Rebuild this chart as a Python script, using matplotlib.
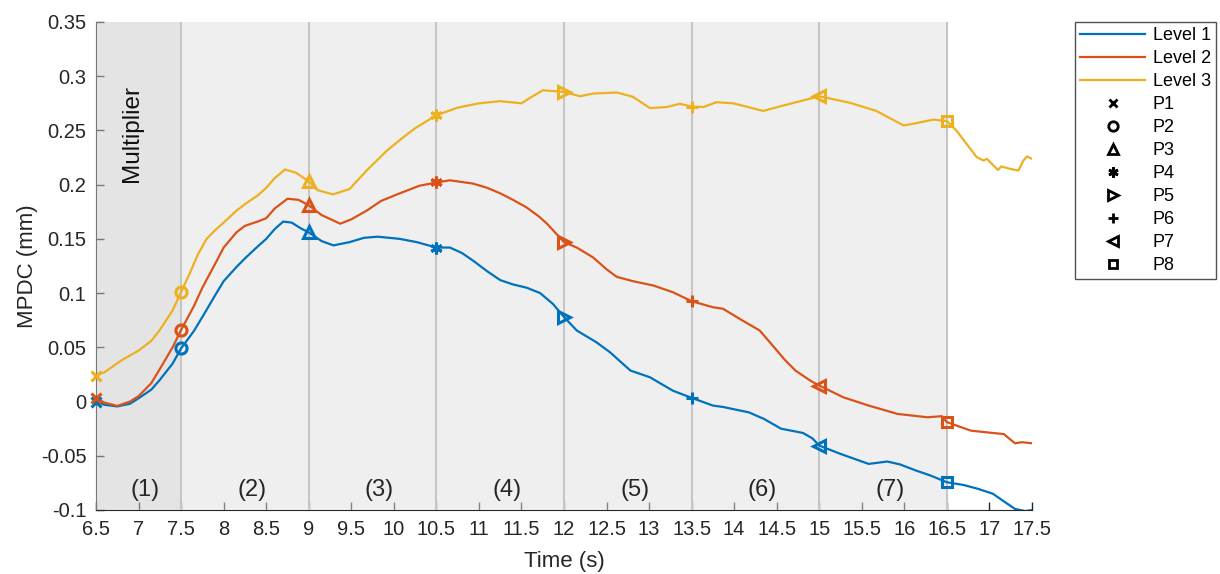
import numpy as np
import matplotlib
matplotlib.use('Agg')
import matplotlib.pyplot as plt
from matplotlib.lines import Line2D

plt.rcParams['font.family'] = ['Liberation Sans', 'DejaVu Sans']

# time (s) / MPDC (mm), one pair of lists per level
t1 = [6.5, 6.6, 6.75, 6.9, 7.0, 7.15, 7.25, 7.4, 7.5, 7.65, 7.75, 7.9, 8.0, 8.15, 8.25, 8.4,
      8.5, 8.6, 8.7, 8.8, 8.9, 9.0, 9.15, 9.29, 9.48, 9.65, 9.81, 10.07, 10.27, 10.5, 10.66,
      10.8, 10.93, 11.1, 11.25, 11.4, 11.56, 11.72, 11.87, 12.0, 12.15, 12.38, 12.54, 12.78,
      13.01, 13.28, 13.5, 13.75, 13.87, 14.07, 14.17, 14.35, 14.55, 14.81, 14.92, 15.0, 15.24,
      15.58, 15.8, 15.95, 16.14, 16.3, 16.5, 16.7, 16.87, 17.04, 17.15, 17.3, 17.42, 17.5]
y1 = [0.000, -0.003, -0.0045, -0.002, 0.003, 0.011, 0.020, 0.035, 0.049, 0.065, 0.078, 0.098,
      0.111, 0.124, 0.132, 0.143, 0.150, 0.159, 0.166, 0.165, 0.160, 0.156, 0.148, 0.144,
      0.147, 0.151, 0.152, 0.150, 0.147, 0.142, 0.142, 0.137, 0.130, 0.120, 0.112, 0.108,
      0.105, 0.100, 0.090, 0.078, 0.0655, 0.0547, 0.0455, 0.0286, 0.0224, 0.010, 0.0034,
      -0.0037, -0.005, -0.0083, -0.0099, -0.016, -0.025, -0.029, -0.034, -0.0406, -0.048,
      -0.0575, -0.0553, -0.058, -0.0637, -0.068, -0.0744, -0.077, -0.0806, -0.085, -0.091,
      -0.099, -0.101, -0.100]

t2 = [6.5, 6.6, 6.75, 6.9, 7.0, 7.15, 7.25, 7.4, 7.5, 7.65, 7.75, 7.9, 8.0, 8.15, 8.25, 8.4,
      8.5, 8.6, 8.75, 8.88, 9.0, 9.15, 9.37, 9.5, 9.68, 9.85, 10.07, 10.3, 10.5, 10.66, 10.93,
      11.1, 11.25, 11.4, 11.56, 11.7, 11.8, 12.0, 12.15, 12.34, 12.5, 12.62, 12.81, 13.05,
      13.28, 13.5, 13.75, 13.87, 14.07, 14.3, 14.47, 14.6, 14.72, 14.9, 15.0, 15.28, 15.58,
      15.92, 16.27, 16.44, 16.5, 16.78, 17.04, 17.17, 17.23, 17.3, 17.38, 17.5]
y2 = [0.003, -0.001, -0.004, 0.000, 0.005, 0.017, 0.030, 0.050, 0.066, 0.088, 0.105, 0.127,
      0.142, 0.156, 0.162, 0.166, 0.169, 0.178, 0.187, 0.186, 0.181, 0.172, 0.164, 0.168,
      0.176, 0.185, 0.192, 0.199, 0.202, 0.204, 0.201, 0.197, 0.192, 0.186, 0.179, 0.171,
      0.164, 0.147, 0.142, 0.133, 0.122, 0.115, 0.111, 0.107, 0.1008, 0.0925, 0.087, 0.0855,
      0.076, 0.0655, 0.050, 0.038, 0.0286, 0.019, 0.0148, 0.004, -0.0037, -0.0114, -0.0145,
      -0.0135, -0.019, -0.0268, -0.029, -0.030, -0.034, -0.0385, -0.0375, -0.0385]

t3 = [6.5, 6.6, 6.8, 7.0, 7.15, 7.25, 7.4, 7.5, 7.6, 7.7, 7.8, 7.9, 8.0, 8.15, 8.25, 8.4,
      8.5, 8.6, 8.72, 8.85, 9.0, 9.1, 9.285, 9.48, 9.68, 9.92, 10.1, 10.25, 10.5, 10.75, 11.0,
      11.25, 11.5, 11.6, 11.75, 12.0, 12.19, 12.34, 12.62, 12.81, 13.01, 13.21, 13.36, 13.5,
      13.64, 13.79, 13.99, 14.34, 14.58, 15.0, 15.36, 15.67, 15.99, 16.14, 16.34, 16.5,
      16.61, 16.73, 16.85, 16.93, 16.97, 17.03, 17.1, 17.14, 17.24, 17.34, 17.4, 17.44, 17.5]
y3 = [0.024, 0.027, 0.038, 0.047, 0.056, 0.066, 0.084, 0.101, 0.118, 0.136, 0.150, 0.158,
      0.165, 0.176, 0.182, 0.190, 0.197, 0.206, 0.214, 0.211, 0.203, 0.195, 0.191, 0.196,
      0.213, 0.2315, 0.243, 0.252, 0.264, 0.271, 0.275, 0.277, 0.275, 0.280, 0.287, 0.2855,
      0.2815, 0.284, 0.285, 0.281, 0.2706, 0.2716, 0.2746, 0.272, 0.2716, 0.276, 0.275,
      0.268, 0.273, 0.2815, 0.2755, 0.268, 0.2546, 0.2567, 0.260, 0.2586, 0.250, 0.2377,
      0.2254, 0.2223, 0.2238, 0.219, 0.2136, 0.2168, 0.2146, 0.213, 0.2223, 0.226, 0.2238]

levels = ['Level 1', 'Level 2', 'Level 3']
colors = ['#0072BD', '#D95319', '#EDB120']

# points P1..P8 and their markers
p_times = [6.5, 7.5, 9, 10.5, 12, 13.5, 15, 16.5]
p_names = ['P1', 'P2', 'P3', 'P4', 'P5', 'P6', 'P7', 'P8']
p_markers = ['x', 'o', '^', (6, 2, 0), '>', '+', '<', 's']
p_sizes = [6.5, 8, 9, 8.5, 9, 8, 9, 7]

regions = ['(1)', '(2)', '(3)', '(4)', '(5)', '(6)', '(7)']
xticks = np.arange(6.5, 17.51, 0.5)
yticks = np.arange(-0.1, 0.351, 0.05)

fig = plt.figure(figsize=(12.2, 5.74), dpi=100)
ax = fig.add_axes([0.0787, 0.1115, 0.7672, 0.8502])

# shaded phases and separators
ax.axvspan(p_times[0], p_times[1], color='#cbcbcb', alpha=0.5, lw=0, zorder=1)
ax.axvspan(p_times[1], p_times[-1], color='#e1e1e1', alpha=0.5, lw=0, zorder=1)
for t in p_times[1:]:
    ax.axvline(t, color='#c6c6c6', lw=1.5, zorder=1.2)

series = [(t1, y1), (t2, y2), (t3, y3)]
for (t, y), c in zip(series, colors):
    ax.plot(t, y, color=c, lw=1.6, zorder=3)
    py = np.interp(p_times, t, y)
    for px_, pv, m, ms in zip(p_times, py, p_markers, p_sizes):
        ax.plot(px_, pv, marker=m, ls='none', color=c, ms=ms, mew=2.2,
                mfc='none', zorder=4, clip_on=False)

for i, lab in enumerate(regions):
    ax.text((p_times[i] + p_times[i + 1]) / 2 + 0.08, -0.082, lab, ha='center',
            va='center', fontsize=17, color='#262626', zorder=5)

ax.text(6.92, 0.292, 'Multiplier', rotation=90, ha='center', va='top',
        fontsize=17.5, color='#111111', zorder=5)

ax.set_xlim(6.5, 17.5)
ax.set_ylim(-0.1, 0.35)
ax.set_xticks(xticks)
ax.set_xticklabels(['%g' % v for v in xticks])
ax.set_yticks(yticks)
ax.set_yticklabels(['%g' % round(v, 2) for v in yticks])
ax.tick_params(direction='in', length=6, width=1, labelsize=14.5, colors='#262626',
               pad=7)
ax.set_axisbelow(True)
for s in ['top', 'right']:
    ax.spines[s].set_visible(False)
for s in ['left', 'bottom']:
    ax.spines[s].set_color('#262626')
    ax.spines[s].set_zorder(0.6)
ax.set_xlabel('Time (s)', fontsize=16, color='#262626', labelpad=9)
ax.set_ylabel('MPDC (mm)', fontsize=16, color='#262626', labelpad=2)

handles = [Line2D([], [], color=c, lw=1.6) for c in colors]
handles += [Line2D([], [], color='black', marker=m, ls='none', ms=ms * 0.85, mew=2.0,
                   mfc='none') for m, ms in zip(p_markers, p_sizes)]
leg = fig.legend(handles, levels + p_names, loc='upper left',
                 bbox_to_anchor=(1075 / 1220, 1 - 22 / 574), fontsize=13,
                 frameon=True, fancybox=False, handlelength=3.6, handletextpad=0.4,
                 labelspacing=0.33, borderpad=0.3, borderaxespad=0)
leg.get_frame().set_edgecolor('#262626')
leg.get_frame().set_linewidth(1)

fig.savefig('out.png', dpi=100)
